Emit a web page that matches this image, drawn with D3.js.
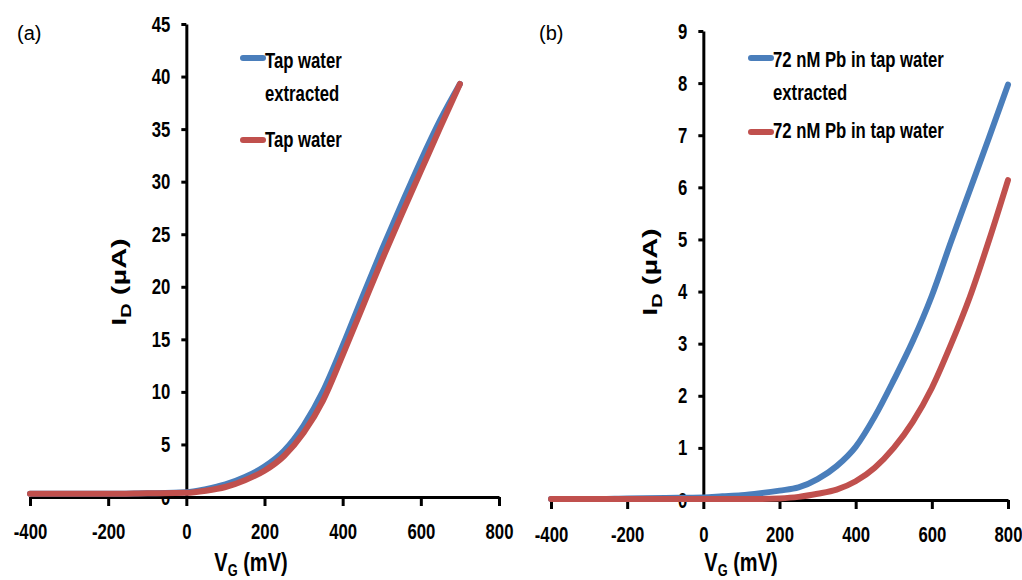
<!DOCTYPE html>
<html>
<head>
<meta charset="utf-8">
<script src="https://cdn.jsdelivr.net/npm/d3@7"></script>
<style>
  html, body { margin: 0; padding: 0; background: #ffffff; }
  svg { display: block; }
  text { font-family: "Liberation Sans", Arial, sans-serif; }
</style>
</head>
<body>
<svg id="chart" width="1022" height="580"></svg>
<script>
// ---------- data ----------
const xTickValues = [-400, -200, 0, 200, 400, 600, 800];
const yTicksA = [0, 5, 10, 15, 20, 25, 30, 35, 40, 45];
const yTicksB = [0, 1, 2, 3, 4, 5, 6, 7, 8, 9];

const vgA = [-400, -300, -200, -100, 0, 50, 100, 150, 200, 250, 300, 350, 400, 450, 500, 550, 600, 650, 700];
const idTapExtracted = [0.3, 0.3, 0.3, 0.35, 0.45, 0.75, 1.2, 1.9, 2.9, 4.4, 6.8, 10.1, 14.4, 19.0, 23.5, 27.8, 32.0, 35.9, 39.3];
const idTap = [0.3, 0.3, 0.3, 0.35, 0.4, 0.6, 0.95, 1.6, 2.5, 3.9, 6.1, 9.2, 13.5, 18.0, 22.5, 26.8, 31.0, 35.2, 39.3];

const vgB = [-400, -300, -200, -100, 0, 50, 100, 150, 200, 250, 300, 350, 400, 450, 500, 550, 600, 650, 700, 750, 800];
const idPbExtracted = [0.02, 0.02, 0.03, 0.04, 0.05, 0.07, 0.09, 0.13, 0.18, 0.24, 0.4, 0.65, 1.02, 1.6, 2.3, 3.05, 3.92, 4.95, 5.95, 6.95, 7.97];
const idPb = [0.02, 0.02, 0.02, 0.02, 0.02, 0.02, 0.02, 0.02, 0.03, 0.06, 0.12, 0.2, 0.36, 0.62, 1.0, 1.5, 2.15, 2.98, 3.9, 4.98, 6.14];

const legendA = [["Tap water", "extracted"], ["Tap water"]];
const legendB = [["72 nM Pb in tap water", "extracted"], ["72 nM Pb in tap water"]];
const panelLabels = ["(a)", "(b)"];

const BLUE = "#4a7ebb";
const RED = "#c0504d";
const K = 0.76; // horizontal squeeze of the text

const svg = d3.select("#chart");

function squeeze(sel, k) {
  sel.attr("transform", function () {
    const x = +(this.getAttribute("x") || 0);
    return `translate(${x * (1 - k)},0) scale(${k},1)`;
  });
}

function panel(cfg) {
  const x = d3.scaleLinear().domain([-400, 800]).range(cfg.xRange);
  const y = d3.scaleLinear().domain([0, cfg.yMax]).range(cfg.yRange);
  const g = svg.append("g");

  // x axis
  const xa = g.append("g")
    .attr("transform", `translate(0,${y(0)})`)
    .call(d3.axisBottom(x).tickValues(xTickValues).tickFormat(d => String(d))
      .tickSize(9).tickSizeOuter(0).tickPadding(17));
  // y axis
  const ya = g.append("g")
    .attr("transform", `translate(${x(0)},0)`)
    .call(d3.axisLeft(y).tickValues(cfg.yTicks).tickFormat(d => String(d))
      .tickSize(5).tickSizeOuter(0).tickPadding(11));

  [xa, ya].forEach(a => {
    a.select(".domain").attr("stroke", "#000").attr("stroke-width", 3);
    a.selectAll(".tick line").attr("stroke", "#000").attr("stroke-width", 3);
    a.selectAll(".tick text")
      .attr("fill", "#000")
      .style("font-size", "22px")
      .style("font-weight", "bold")
      .call(squeeze, K);
  });

  // curves
  const line = d3.line().x(d => x(d[0])).y(d => y(d[1])).curve(d3.curveMonotoneX);
  cfg.series.forEach(s => {
    g.append("path")
      .datum(cfg.vg.map((v, i) => [v, s.values[i]]))
      .attr("fill", "none")
      .attr("stroke", s.color)
      .attr("stroke-width", 6)
      .attr("stroke-linecap", "round")
      .attr("stroke-linejoin", "round")
      .attr("d", line);
  });

  // axis titles
  const xt = g.append("text")
    .attr("x", cfg.xTitle[0]).attr("y", cfg.xTitle[1])
    .attr("text-anchor", "middle")
    .style("font-size", "25px").style("font-weight", "bold").attr("fill", "#000");
  xt.append("tspan").text("V");
  xt.append("tspan").attr("dy", 5).style("font-size", "16px").text("G");
  xt.append("tspan").attr("dy", -5).text(" (mV)");
  xt.call(squeeze, 0.8);

  const yt = g.append("text")
    .attr("transform", `translate(${cfg.yTitle[0]},${cfg.yTitle[1]}) scale(0.72,1) rotate(-90)`)
    .attr("text-anchor", "middle")
    .style("font-size", "29px").style("font-weight", "bold").attr("fill", "#000");
  yt.append("tspan").text("I");
  yt.append("tspan").attr("dy", 7).style("font-size", "20px").text("D");
  yt.append("tspan").attr("dy", -7).text(" (\u00b5A)");

  // legend
  cfg.legend.forEach((lines, i) => {
    const L = cfg.legendPos[i];
    g.append("line")
      .attr("x1", L.x0).attr("x2", L.x0 + 20)
      .attr("y1", L.sy).attr("y2", L.sy)
      .attr("stroke", cfg.series[i].color)
      .attr("stroke-width", 6).attr("stroke-linecap", "round");
    lines.forEach((t, j) => {
      g.append("text")
        .attr("x", L.x0 + 22).attr("y", L.ty + j * 33)
        .style("font-size", "22px").style("font-weight", "bold").attr("fill", "#000")
        .text(t)
        .call(squeeze, K);
    });
  });

  // panel label
  g.append("text")
    .attr("x", cfg.label[0]).attr("y", cfg.label[1])
    .style("font-size", "20px").attr("fill", "#000")
    .text(cfg.labelText);
}

panel({
  xRange: [30, 499], yRange: [497, 24], yMax: 45, yTicks: yTicksA,
  vg: vgA,
  series: [{ values: idTapExtracted, color: BLUE }, { values: idTap, color: RED }],
  xTitle: [251, 571], yTitle: [126, 282],
  legend: legendA,
  legendPos: [{ x0: 243, sy: 58, ty: 68 }, { x0: 243, sy: 140, ty: 147 }],
  label: [17, 40], labelText: panelLabels[0]
});

panel({
  xRange: [551, 1008], yRange: [500, 31], yMax: 9, yTicks: yTicksB,
  vg: vgB,
  series: [{ values: idPbExtracted, color: BLUE }, { values: idPb, color: RED }],
  xTitle: [741, 571], yTitle: [657, 272],
  legend: legendB,
  legendPos: [{ x0: 751, sy: 58, ty: 67 }, { x0: 751, sy: 132, ty: 138 }],
  label: [539, 40], labelText: panelLabels[1]
});
</script>
</body>
</html>
